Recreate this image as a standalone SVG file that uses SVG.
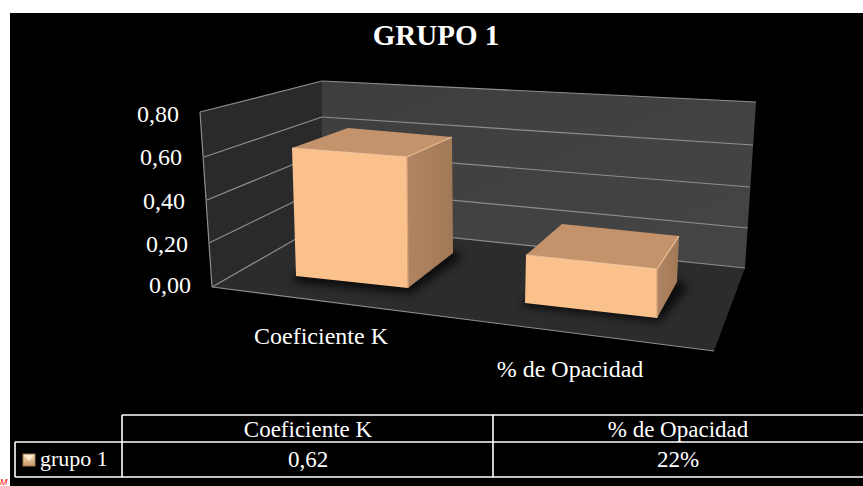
<svg xmlns="http://www.w3.org/2000/svg" width="863" height="486" viewBox="0 0 863 486">
  <style>
    .t { font-family: "Liberation Serif", "Times New Roman", "DejaVu Serif", serif; fill: #ffffff; }
    .ax { font-size: 24px; text-anchor: end; }
    .cat { font-size: 24px; text-anchor: middle; }
    .tb { font-size: 23px; text-anchor: middle; }
    .grid { stroke: #8e8e8e; stroke-width: 1.2; fill: none; }
    .tline { stroke: #ffffff; stroke-width: 1.6; fill: none; }
    .front { fill: #fbc18d; }
    .top { fill: #c4936b; }
    .right { fill: url(#rightGrad); }
  </style>
  <defs>
    <linearGradient id="backGrad" x1="0" y1="0" x2="1" y2="1">
      <stop offset="0" stop-color="#3e3e3e"/>
      <stop offset="1" stop-color="#454545"/>
    </linearGradient>
    <linearGradient id="rightGrad" x1="0" y1="0" x2="1" y2="0">
      <stop offset="0" stop-color="#b08462"/>
      <stop offset="1" stop-color="#a27957"/>
    </linearGradient>
    <linearGradient id="keyGrad" x1="0" y1="0" x2="0" y2="1">
      <stop offset="0" stop-color="#fde0b8"/>
      <stop offset="1" stop-color="#c8986e"/>
    </linearGradient>
    <filter id="shadow" x="-20%" y="-50%" width="140%" height="200%">
      <feGaussianBlur stdDeviation="4"/>
    </filter>
  </defs>

  <rect x="0" y="0" width="863" height="486" fill="#ffffff"/>
  <rect x="10" y="13" width="853" height="473" fill="#000000"/>

  <g id="title">
    <text class="t" x="436" y="45" font-size="29" font-weight="bold" text-anchor="middle">GRUPO 1</text>
  </g>

  <g id="plot-area">
    <polygon points="322,81 756,102 745,268 322,224" fill="url(#backGrad)"/>
    <polygon points="200,112 322,81 322,224 212,287" fill="#2a2a2a"/>
    <polygon points="212,287 322,224 745,268 714,351" fill="#2c2c2c"/>
    <g class="grid">
      <line x1="322" y1="81" x2="756" y2="102"/>
      <line x1="322" y1="117" x2="753" y2="145"/>
      <line x1="322" y1="152.5" x2="750" y2="187"/>
      <line x1="322" y1="188" x2="748" y2="228"/>
      <line x1="322" y1="224" x2="745" y2="268"/>
      <line x1="200" y1="112" x2="322" y2="81"/>
      <line x1="204" y1="157" x2="322" y2="117"/>
      <line x1="207" y1="200" x2="322" y2="152.5"/>
      <line x1="209" y1="243" x2="322" y2="188"/>
      <line x1="212" y1="287" x2="322" y2="224"/>
      <line x1="200" y1="112" x2="212" y2="287"/>
      <line x1="212" y1="287" x2="714" y2="351"/>
    </g>
  </g>

  <g id="axis-labels">
    <text class="t ax" x="179" y="122">0,80</text>
    <text class="t ax" x="182" y="165">0,60</text>
    <text class="t ax" x="185" y="209">0,40</text>
    <text class="t ax" x="188" y="252">0,20</text>
    <text class="t ax" x="191" y="293">0,00</text>
  </g>

  <g id="bar-coeficiente-k">
    <polygon points="290,282 410,294 462,258 455,250 300,270" fill="#000" opacity="0.7" filter="url(#shadow)"/>
    <polygon class="right" points="407,157 452,137 453,253 408,288"/>
    <polygon class="top" points="292,148 348,128 452,137 407,157"/>
    <polygon class="front" points="292,148 407,157 408,288 296,276"/>
    <polyline points="292,148 407,157 452,137" fill="none" stroke="#f7cfa6" stroke-width="1.2" opacity="0.8"/>
    <line x1="407" y1="157" x2="408" y2="288" stroke="#d9a57a" stroke-width="1.2"/>
  </g>

  <g id="bar-opacidad">
    <polygon points="520,306 660,322 688,288 680,280 530,296" fill="#000" opacity="0.7" filter="url(#shadow)"/>
    <polygon class="right" points="657,269 679,236 677,282 657,318"/>
    <polygon class="top" points="526,255 562,224 679,236 657,269"/>
    <polygon class="front" points="526,255 657,269 657,318 525,303"/>
    <polyline points="526,255 657,269 679,236" fill="none" stroke="#f7cfa6" stroke-width="1.2" opacity="0.8"/>
    <line x1="657" y1="269" x2="657" y2="318" stroke="#d9a57a" stroke-width="1.2"/>
  </g>

  <g id="category-labels">
    <text class="t cat" x="321" y="344">Coeficiente K</text>
    <text class="t cat" x="570" y="377">% de Opacidad</text>
  </g>

  <g id="data-table">
    <g class="tline">
      <line x1="122" y1="415" x2="863" y2="415"/>
      <line x1="15" y1="442" x2="863" y2="442"/>
      <line x1="15" y1="477" x2="863" y2="477"/>
      <line x1="15" y1="442" x2="15" y2="477"/>
      <line x1="122" y1="415" x2="122" y2="477"/>
      <line x1="493" y1="415" x2="493" y2="477"/>
    </g>
    <text class="t tb" x="308" y="437">Coeficiente K</text>
    <text class="t tb" x="678" y="437">% de Opacidad</text>
    <rect x="23" y="454" width="12" height="12" fill="url(#keyGrad)" stroke="#a07850" stroke-width="1"/>
    <polygon points="24,455 34,455 29,461" fill="#fff2dc" opacity="0.8"/>
    <text class="t" x="40" y="466" font-size="22">grupo 1</text>
    <text class="t tb" x="308" y="467">0,62</text>
    <text class="t tb" x="678" y="467">22%</text>
  </g>

  <text x="0" y="485" font-family="Liberation Sans, Arial, sans-serif" font-size="9" font-style="italic" fill="#ff0000">M</text>
</svg>
